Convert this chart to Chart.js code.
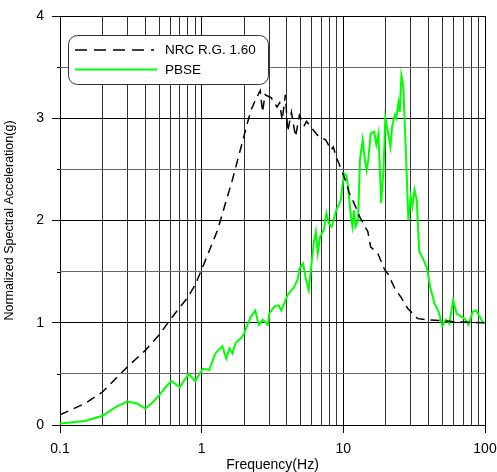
<!DOCTYPE html>
<html>
<head>
<meta charset="utf-8">
<script src="https://cdn.jsdelivr.net/npm/chart.js@4.4.1/dist/chart.umd.min.js"></script>
<style>
  html, body { margin: 0; padding: 0; background: #fff; }
  #wrap { position: relative; width: 497px; height: 472px; }
</style>
</head>
<body>
<div id="wrap"><canvas id="spectrumChart" width="497" height="472"></canvas></div>
<script>
// Design response spectrum (dashed)
const nrcFreq = [0.1, 0.15, 0.2, 0.3, 0.4, 0.5, 0.6, 0.7, 0.8, 0.9, 1.0, 1.29, 1.65, 2.1, 2.23, 2.4,
    2.59, 2.69, 2.8, 3.1, 3.4, 3.55, 3.7, 3.9, 4.05, 4.3, 4.6, 4.9, 5.3, 5.5, 6.1, 6.7, 7.5, 8.2,
    8.5, 8.9, 9.3, 9.9, 10.5, 11.0, 11.9, 13.0, 14.9, 15.6, 17.5, 19.4, 20.8, 23.0, 25.5, 28.5,
    33.5, 38, 50, 62, 100];
const nrcAccel = [0.10, 0.21, 0.325, 0.57, 0.73, 0.88, 1.03, 1.15, 1.25, 1.37, 1.52, 1.90, 2.40, 2.95, 3.08, 3.18,
    3.27, 3.06, 3.23, 3.20, 3.11, 3.15, 2.98, 3.23, 2.87, 3.06, 2.82, 3.03, 2.93, 2.97, 2.89, 2.82, 2.79, 2.69,
    2.72, 2.62, 2.56, 2.46, 2.37, 2.27, 2.17, 2.04, 1.89, 1.74, 1.68, 1.53, 1.47, 1.34, 1.25, 1.14,
    1.04, 1.03, 1.02, 1.01, 1.00];

// Site-specific spectrum (green)
const pbseFreq = [0.1, 0.15, 0.2, 0.25, 0.3, 0.35, 0.4, 0.45, 0.5, 0.55, 0.61, 0.70, 0.81, 0.90, 1.02, 1.13,
    1.25, 1.4, 1.49, 1.57, 1.65, 1.73, 1.9, 2.0, 2.1, 2.25, 2.39, 2.53, 2.7, 2.93, 3.0, 3.27, 3.5, 3.65,
    4.04, 4.5, 4.75, 4.9, 5.2, 5.4, 5.7, 5.9, 6.2, 6.4, 6.6, 6.85, 7.3, 7.6, 7.9, 8.3, 8.9, 9.6,
    10.1, 10.5, 10.8, 11.3, 11.6, 11.9, 12.2, 12.7, 13.1, 13.7, 14.1, 14.6, 15.0, 15.6, 16.5, 17.1,
    17.7, 18.5, 19.2, 19.8, 20.6, 21.5, 22.1, 23.1, 23.6, 24.5, 25.0, 25.7, 26.5, 27.6, 28.8, 29.9,
    30.7, 31.8, 33.0, 34.3, 37, 39, 41, 44, 47, 50, 53, 56, 59.6, 63, 67.9, 72, 76.5, 82, 86.6, 97, 100];
const pbseAccel = [0.015, 0.04, 0.09, 0.18, 0.23, 0.21, 0.16, 0.22, 0.29, 0.36, 0.43, 0.37, 0.50, 0.43, 0.55, 0.54,
    0.70, 0.77, 0.65, 0.75, 0.70, 0.80, 0.85, 0.90, 0.98, 1.07, 1.12, 0.98, 1.03, 0.98, 1.09, 1.16, 1.17, 1.12,
    1.27, 1.35, 1.42, 1.53, 1.58, 1.45, 1.32, 1.52, 1.79, 1.89, 1.68, 1.84, 1.91, 2.07, 1.97, 1.94, 2.10, 2.20,
    2.46, 2.44, 2.33, 2.04, 1.94, 2.10, 1.94, 2.00, 2.59, 2.79, 2.62, 2.49, 2.59, 2.85, 2.87, 2.74,
    2.85, 2.17, 2.49, 3.00, 2.87, 2.72, 2.92, 3.03, 3.00, 3.15, 3.06, 3.42, 3.31, 2.69, 2.00, 2.23,
    2.14, 2.30, 2.20, 1.70, 1.61, 1.53, 1.35, 1.19, 1.11, 0.97, 1.03, 0.99, 1.22, 1.09, 1.06, 1.04, 0.98, 1.11, 1.12, 1.00, 1.00];

const seriesLabels = ['NRC R.G. 1.60', 'PBSE'];
const xTickLabels = ['0.1', '1', '10', '100'];
const yTickLabels = ['0', '1', '2', '3', '4'];

const FONT = "'Liberation Sans', Arial, sans-serif";
const GREEN = '#00ff00';

function toPoints(xs, ys) {
    return xs.map((x, i) => ({ x: x, y: ys[i] }));
}

function isDecade(v) {
    const l = Math.log10(v);
    return Math.abs(l - Math.round(l)) < 1e-6;
}

function isWhole(v) {
    return Math.abs(v - Math.round(v)) < 1e-6;
}

// log grid: 1..9 in each decade
const xGrid = [];
[0.1, 1, 10].forEach(d => {
    for (let k = 1; k <= 9; k++) xGrid.push(+(k * d).toPrecision(6));
});
xGrid.push(100);

// Short ticks at the half steps and the boxed legend
const extrasPlugin = {
    id: 'extras',
    afterDraw(chart) {
        const ctx = chart.ctx;
        const x0 = chart.chartArea.left;
        const yScale = chart.scales.y;
        ctx.save();
        ctx.strokeStyle = '#000';
        ctx.lineWidth = 1;
        [0.5, 1.5, 2.5, 3.5].forEach(v => {
            const py = Math.round(yScale.getPixelForValue(v)) + 0.5;
            ctx.beginPath();
            ctx.moveTo(x0 - 3, py);
            ctx.lineTo(x0, py);
            ctx.stroke();
        });

        // legend box
        const bx = 68.5, by = 35.5, bw = 200, bh = 49, r = 9;
        ctx.beginPath();
        ctx.roundRect(bx, by, bw, bh, r);
        ctx.fillStyle = '#fff';
        ctx.fill();
        ctx.strokeStyle = '#333';
        ctx.stroke();

        ctx.lineWidth = 1.5;
        ctx.strokeStyle = '#000';
        ctx.setLineDash([12, 7]);
        ctx.beginPath();
        ctx.moveTo(75, 50);
        ctx.lineTo(154, 50);
        ctx.stroke();
        ctx.setLineDash([]);

        ctx.lineWidth = 2;
        ctx.strokeStyle = GREEN;
        ctx.beginPath();
        ctx.moveTo(75, 69.5);
        ctx.lineTo(157, 69.5);
        ctx.stroke();

        ctx.fillStyle = '#000';
        ctx.font = '13.5px ' + FONT;
        ctx.textBaseline = 'middle';
        ctx.textAlign = 'left';
        ctx.fillText(seriesLabels[0], 165, 50);
        ctx.fillText(seriesLabels[1], 165, 70);
        ctx.restore();
    }
};

const ctx = document.getElementById('spectrumChart');
new Chart(ctx, {
    type: 'line',
    data: {
        datasets: [{
            label: seriesLabels[0],
            data: toPoints(nrcFreq, nrcAccel),
            borderColor: '#000',
            borderWidth: 1.5,
            borderDash: [9, 6],
            pointRadius: 0,
            tension: 0,
            fill: false
        }, {
            label: seriesLabels[1],
            data: toPoints(pbseFreq, pbseAccel),
            borderColor: GREEN,
            borderWidth: 2,
            pointRadius: 0,
            tension: 0,
            fill: false
        }]
    },
    options: {
        responsive: false,
        animation: false,
        layout: {
            padding: { top: 16, right: 12, left: 0, bottom: 0 }
        },
        plugins: {
            legend: { display: false },
            tooltip: { enabled: false }
        },
        scales: {
            x: {
                type: 'logarithmic',
                min: 0.1,
                max: 100,
                afterFit: s => {
                    s.height = 47;
                    // the end labels fit inside the layout padding
                    s.paddingLeft = 0;
                    s.paddingRight = 0;
                },
                afterBuildTicks: s => { s.ticks = xGrid.map(v => ({ value: v })); },
                grid: {
                    color: c => isDecade(c.tick.value) ? '#000' : '#333',
                    tickColor: c => isDecade(c.tick.value) ? '#000' : 'rgba(0,0,0,0)',
                    tickLength: 8,
                    lineWidth: 1
                },
                border: { display: false },
                ticks: {
                    autoSkip: false,
                    maxRotation: 0,
                    padding: 8,
                    color: '#000',
                    font: { family: FONT, size: 14 },
                    callback: function(value) {
                        if (!isDecade(value)) return '';
                        return xTickLabels[Math.round(Math.log10(value)) + 1];
                    }
                },
                title: {
                    display: true,
                    text: 'Frequency(Hz)',
                    color: '#000',
                    font: { family: FONT, size: 14, lineHeight: 1 },
                    padding: { top: 0, bottom: 0 }
                }
            },
            y: {
                min: 0,
                max: 4,
                afterFit: s => {
                    s.width = 60;
                    s.paddingTop = 0;
                    s.paddingBottom = 0;
                },
                grid: {
                    color: c => isWhole(c.tick.value) ? '#000' : '#666',
                    tickColor: c => isWhole(c.tick.value) ? '#000' : 'rgba(0,0,0,0)',
                    tickLength: 8,
                    lineWidth: 1
                },
                border: { display: false },
                ticks: {
                    stepSize: 0.5,
                    padding: 8,
                    color: '#000',
                    font: { family: FONT, size: 14 },
                    callback: function(value) {
                        return isWhole(value) ? yTickLabels[Math.round(value)] : '';
                    }
                },
                title: {
                    display: true,
                    text: 'Normalized Spectral Acceleration(g)',
                    color: '#000',
                    font: { family: FONT, size: 12.5 },
                    padding: { top: 2, bottom: 0 }
                }
            }
        }
    },
    plugins: [extrasPlugin]
});
</script>
</body>
</html>
